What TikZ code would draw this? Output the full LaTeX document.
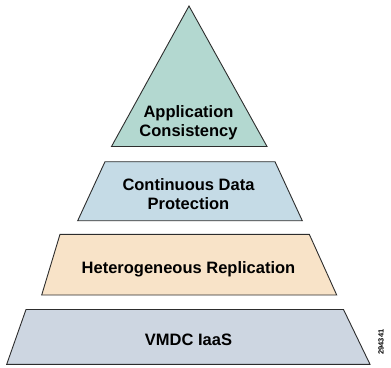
\documentclass[tikz,border=0pt]{standalone}
\usepackage{fontspec}
\setmainfont{Liberation Sans}

\definecolor{appfill}{RGB}{179,216,208}
\definecolor{cdpfill}{RGB}{197,219,230}
\definecolor{replfill}{RGB}{248,227,200}
\definecolor{iaasfill}{RGB}{205,214,225}
\definecolor{edge}{RGB}{45,45,45}

\begin{document}
\begin{tikzpicture}[x=1pt, y=-1pt,
    layer/.style={draw=edge, line width=0.9pt, line join=miter},
    label/.style={inner sep=0pt, align=center, anchor=north,
      font=\fontsize{16.5}{19.5}\selectfont\bfseries}]
\useasboundingbox (0,0) rectangle (391,367);

% Draw the top of the pyramid
\draw[layer, fill=appfill] (189,6) -- (267,146.5) -- (111.5,146.5) -- cycle;
\node[label] (app) at (188.5,105) {Application\\Consistency};

% Draw the second layer
\draw[layer, fill=cdpfill] (105,161.7) -- (275,161.7) -- (302.3,220.7) -- (77.7,220.7) -- cycle;
\node[label] (cdp) at (188.5,178.3) {Continuous Data\\Protection};

% Draw the third layer
\draw[layer, fill=replfill] (60,234.3) -- (309.3,234.3) -- (336.7,295) -- (41.7,295) -- cycle;
\node[label] (repl) at (188.5,261.5) {Heterogeneous Replication};

% Draw the base layer
\draw[layer, fill=iaasfill] (26,309.5) -- (343.5,309.5) -- (370,364.3) -- (6.7,364.3) -- cycle;
\node[label] (iaas) at (188.5,333.3) {VMDC IaaS};

% Figure number
\node[rotate=90, inner sep=0pt, font=\fontsize{7.5}{8}\selectfont\bfseries] (fignum) at (381,342) {294341};
\end{tikzpicture}
\end{document}
